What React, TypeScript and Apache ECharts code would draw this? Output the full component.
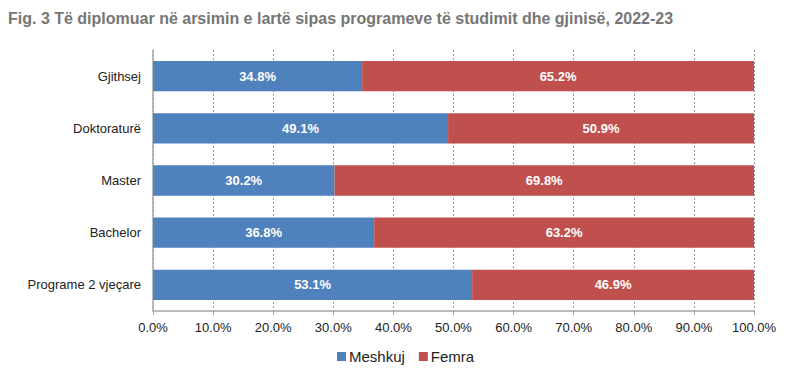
import React, { useEffect, useRef } from "react";
import * as echarts from "echarts";

const categories = ["Programe 2 vjeçare", "Bachelor", "Master", "Doktoraturë", "Gjithsej"];
const meshkuj = [53.1, 36.8, 30.2, 49.1, 34.8];
const femra = [46.9, 63.2, 69.8, 50.9, 65.2];
const seriesNames = ["Meshkuj", "Femra"];
const titleText = "Fig. 3 Të diplomuar në arsimin e lartë sipas programeve të studimit dhe gjinisë, 2022-23";

export default function App() {
  const ref = useRef<HTMLDivElement>(null);
  useEffect(() => {
    if (!ref.current) return;
    const chart = echarts.init(ref.current, null, { renderer: "svg" });
    const font = "Liberation Sans, Arial, sans-serif";
    chart.setOption({
      animation: false,
      textStyle: { fontFamily: font },
      title: {
        text: titleText,
        left: 0,
        top: 2,
        padding: 0,
        textStyle: { fontFamily: font, fontWeight: "bold", fontSize: 16, color: "#767676" },
      },
      legend: {
        top: 341,
        left: 329,
        padding: 0,
        itemWidth: 9,
        itemHeight: 9,
        itemGap: 14,
        icon: "rect",
        textStyle: { fontFamily: font, fontSize: 15, color: "#222", padding: [0, 0, 0, -2] },
        data: seriesNames,
      },
      grid: { left: 145, right: 35, top: 42, bottom: 57, containLabel: false },
      xAxis: {
        type: "value",
        min: 0,
        max: 100,
        interval: 10,
        axisLabel: { formatter: (v: number) => v.toFixed(1) + "%", fontSize: 13, color: "#222", margin: 10 },
        axisLine: { show: true, lineStyle: { color: "#a6a6a6", width: 1.5 } },
        axisTick: { show: true, length: 4, lineStyle: { color: "#a6a6a6" } },
        splitLine: { show: true, lineStyle: { color: "#9a9a9a", type: [2, 2], width: 1 } },
      },
      yAxis: {
        type: "category",
        data: categories,
        axisLabel: { fontSize: 13, color: "#222", margin: 12 },
        axisLine: { show: true, lineStyle: { color: "#a6a6a6", width: 1.5 } },
        axisTick: { show: false },
      },
      series: [
        {
          name: seriesNames[0],
          type: "bar",
          stack: "total",
          data: meshkuj,
          barCategoryGap: "42%",
          itemStyle: { color: "#4f81bd" },
          label: { show: true, position: "inside", formatter: (p: any) => p.value.toFixed(1) + "%", color: "#fff", fontWeight: "bold", fontSize: 13 },
        },
        {
          name: seriesNames[1],
          type: "bar",
          stack: "total",
          data: femra,
          barCategoryGap: "42%",
          itemStyle: { color: "#c0504d" },
          label: { show: true, position: "inside", formatter: (p: any) => p.value.toFixed(1) + "%", color: "#fff", fontWeight: "bold", fontSize: 13 },
        },
      ],
    });
    return () => chart.dispose();
  }, []);
  return <div ref={ref} style={{ width: 781, height: 360 }} />;
}
